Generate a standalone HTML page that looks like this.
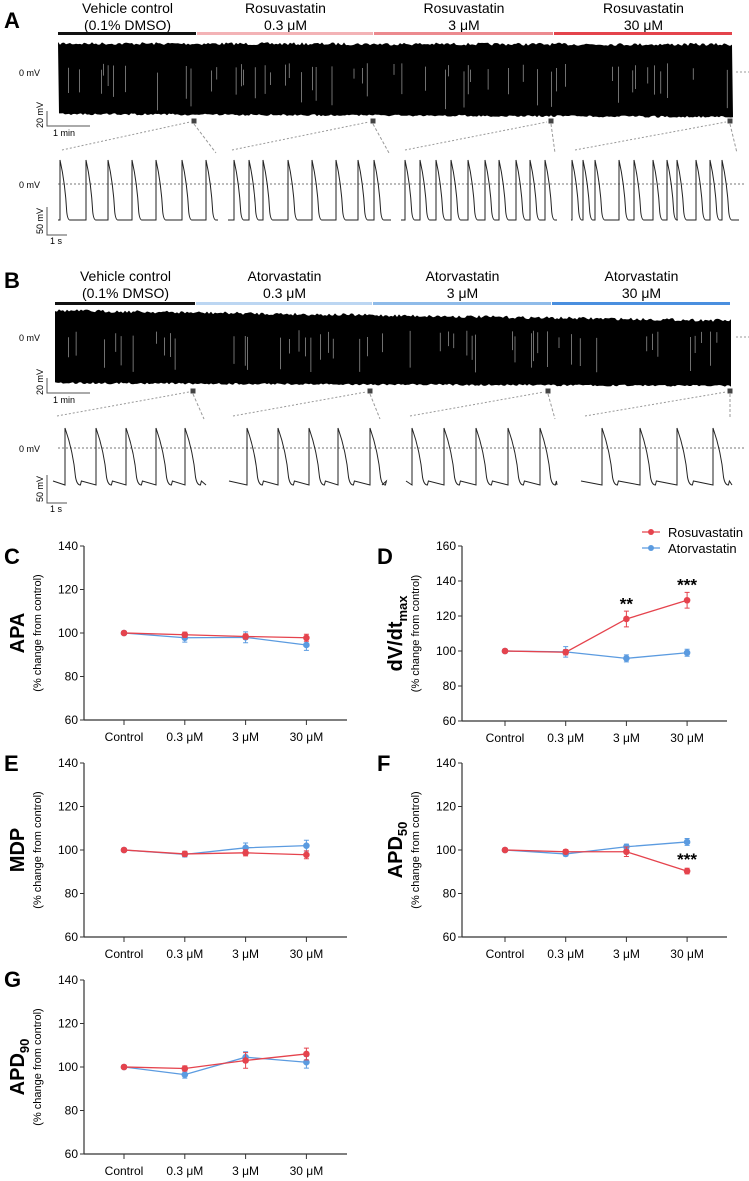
<!DOCTYPE html>
<html><head><meta charset="utf-8"><style>
body{margin:0;background:#fff}
svg{display:block;font-family:"Liberation Sans",sans-serif}
.n{font-family:"Liberation Sans Narrow","Liberation Sans",sans-serif}
</style></head><body>
<svg id="fig" width="749" height="1181" viewBox="0 0 749 1181"></svg>
<script>
const categories = ["Control","0.3 \u03bcM","3 \u03bcM","30 \u03bcM"];
const yTicks = [60,80,100,120,140];
const yTicksD = [60,80,100,120,140,160];
const apaRosu = [100,99.2,98.4,97.8], apaRosuErr=[0.6,1.2,1.2,1.6];
const apaAtor = [100,97.8,98,94.5], apaAtorErr=[0.6,2,2.5,2.5];
const dvRosu = [100,99.3,118.3,129], dvRosuErr=[0.8,1.5,4.5,4.5];
const dvAtor = [100,99.5,95.8,99], dvAtorErr=[0.6,3,2,2];
const mdpRosu = [100,98.2,98.7,97.8], mdpRosuErr=[0.6,1.2,1.4,1.8];
const mdpAtor = [100,98,101,102], mdpAtorErr=[0.6,1.2,2.2,2.5];
const apd50Rosu = [100,99.2,99.2,90.3], apd50RosuErr=[0.6,1,2.2,1.3];
const apd50Ator = [100,98.2,101.5,103.7], apd50AtorErr=[0.6,1,1.2,1.6];
const apd90Rosu = [100,99.3,103,106], apd90RosuErr=[0.8,1.2,3.6,2.7];
const apd90Ator = [100,96.5,104.5,102.2], apd90AtorErr=[0.6,1.6,2.5,2.7];
const RED="#e5434d", BLUE="#5b9be0";
const svg=document.getElementById('fig');
const NS="http://www.w3.org/2000/svg";
function mk(tag,attrs,parent){const e=document.createElementNS(NS,tag);for(const k in attrs)e.setAttribute(k,attrs[k]);(parent||svg).appendChild(e);return e;}
function txt(s,x,y,attrs,parent){const e=mk('text',Object.assign({x:x,y:y},attrs),parent);e.textContent=s;return e;}

// panel letters
[["A",4,28],["B",4,288],["C",4,564],["D",377,564],["E",4,771],["F",377,771],["G",4,987]].forEach(p=>{
const t=txt(p[0],p[1],p[2],{'font-size':22,'font-weight':'bold'});


});

// seeded rng for trace texture
let seed=7;function rnd(){seed=(seed*16807)%2147483647;return seed/2147483647;}

function tracePanel(o){
const g=mk('g',{});


// titles and bars
o.titles.forEach((t,i)=>{
 const cx=(o.bars[i]+o.bars[i+1])/2;
 txt(t[0],cx,o.ty,{'font-size':14,'text-anchor':'middle'},g);
 txt(t[1],cx,o.ty+17,{'font-size':14,'text-anchor':'middle'},g);
 mk('rect',{x:o.bars[i],y:o.by,width:o.bars[i+1]-o.bars[i]-1,height:3,fill:o.colors[i]},g);
});
// compressed trace
const x0=o.bars[0],x1=o.bars[4];
let top=`M${x0},${o.tt0}`;
for(let x=x0;x<=x1;x+=2){const f=(x-x0)/(x1-x0);top+=` L${x},${(o.tt0+(o.tt1-o.tt0)*f+rnd()*3-1).toFixed(1)}`;}
let bot='';
for(let x=x1;x>=x0;x-=2){const f=(x-x0)/(x1-x0);bot+=` L${x},${(o.tb0+(o.tb1-o.tb0)*f+rnd()*2-1).toFixed(1)}`;}
mk('path',{d:top+bot+'Z',fill:'#000'},g);
for(let x=x0+2;x<x1;x+=2+rnd()*5){if(rnd()<0.35){const y1=o.tt0+20+rnd()*10,y2=y1+10+rnd()*30;mk('line',{x1:x.toFixed(1),x2:x.toFixed(1),y1:y1,y2:y2,stroke:'#bbb','stroke-width':0.6},g);}}
txt("0 mV",19,o.z1+4,{'font-size':9},g);
mk('line',{x1:736,x2:749,y1:o.z1,y2:o.z1,stroke:'#999','stroke-dasharray':'2,2'},g);
// scale bar 1
mk('path',{d:`M47,${o.s1}V${o.s1+15}H90`,stroke:'#555',fill:'none','stroke-width':1},g);
txt("20 mV",0,0,{'font-size':9,transform:`translate(43,${o.s1+17}) rotate(-90)`},g);
txt("1 min",53,o.s1+25,{'font-size':9},g);
// squares and dashed zoom lines
o.sq.forEach((sx,i)=>{
 mk('rect',{x:sx-2.5,y:o.sqy-2.5,width:5,height:5,fill:'#444'},g);
 mk('line',{x1:o.groups[i].s+4,y1:o.dy,x2:sx-4,y2:o.sqy+1,stroke:'#999','stroke-dasharray':'2,2'},g);
 mk('line',{x1:sx,y1:o.sqy+3,x2:o.groups[i].e-2,y2:o.dy+3,stroke:'#999','stroke-dasharray':'3,2'},g);
});
// AP traces
mk('line',{x1:58,x2:744,y1:o.z2,y2:o.z2,stroke:'#777','stroke-dasharray':'2,2'},g);
txt("0 mV",19,o.z2+4,{'font-size':9},g);
o.groups.forEach(gr=>{
 let d=`M${gr.s},${o.base+o.pre}`;let last=gr.s;
 gr.sp.forEach(sx=>{
  d+=` L${sx},${o.base}`;
  d+=` L${sx},${o.peak}`;
  const w=o.w;
  d+=` C${sx+w*0.2},${o.peak+8} ${sx+w*0.6},${o.peak+(o.base-o.peak)*0.45} ${sx+w*0.75},${o.base-8}`;
  d+=` Q${sx+w*0.85},${o.base} ${sx+w*1.1},${o.base}`;
  d+=` L${sx+w*1.1+1},${o.base+o.pre}`;
 });
 d+=` L${gr.e},${o.base}`;
 mk('path',{d:d,fill:'none',stroke:'#222','stroke-width':1},g);
});
mk('path',{d:`M47,${o.s2}V${o.s2+28}H67`,stroke:'#555',fill:'none'},g);
txt("50 mV",0,0,{'font-size':9,transform:`translate(43,${o.s2+27}) rotate(-90)`},g);
txt("1 s",50,o.s2+37,{'font-size':9},g);
}

tracePanel({name:'panel-a-rosuvastatin-traces',ty:13,by:32,bars:[58,197,374,554,733],
titles:[["Vehicle control","(0.1% DMSO)"],["Rosuvastatin","0.3 \u03bcM"],["Rosuvastatin","3 \u03bcM"],["Rosuvastatin","30 \u03bcM"]],
colors:["#111","#f3b3b6","#ec8a8f","#e4444c"],tt0:43,tt1:44,tb0:114,tb1:117,z1:72,s1:111,sqy:121,sq:[194,373,551,730],dy:150,
z2:184,peak:160,base:220,pre:0,w:9,s2:207,
groups:[{s:58,e:218,sp:[60,86,108,132,156,182,206]},{s:228,e:391,sp:[234,249,263,288,312,336,358,374]},
{s:401,e:557,sp:[405,420,436,451,468,485,499,516,530,545]},{s:571,e:739,sp:[572,583,595,619,634,653,667,677,696,710,722]}]});
tracePanel({name:'panel-b-atorvastatin-traces',ty:281,by:302,bars:[55,196,373,552,731],
titles:[["Vehicle control","(0.1% DMSO)"],["Atorvastatin","0.3 \u03bcM"],["Atorvastatin","3 \u03bcM"],["Atorvastatin","30 \u03bcM"]],
colors:["#111","#bcd6f2","#8fbbe9","#4a8fdf"],tt0:310,tt1:320,tb0:383,tb1:386,z1:337,s1:378,sqy:391,sq:[193,370,548,730],dy:416,
z2:448,peak:428,base:485,pre:-4,w:14,s2:475,
groups:[{s:53,e:206,sp:[65,96,126,156,185]},{s:229,e:382,sp:[247,278,309,338,370]},
{s:406,e:557,sp:[412,444,476,508,540]},{s:581,e:732,sp:[602,640,677,713]}]});

// legend
[[RED,"Rosuvastatin",532,'legend-entry-rosuvastatin'],[BLUE,"Atorvastatin",548,'legend-entry-atorvastatin']].forEach(l=>{
const g=mk('g',{});


mk('line',{x1:642,x2:660,y1:l[2],y2:l[2],stroke:l[0],'stroke-width':1.2},g);
mk('circle',{cx:651,cy:l[2],r:3,fill:l[0]},g);
txt(l[1],668,l[2]+5,{'font-size':13},g);
});

function chart(o){
const g=mk('g',{});


const yv=v=>o.yb-(v-o.ticks[0])/(o.ticks[o.ticks.length-1]-o.ticks[0])*(o.yb-o.yt);
const xv=i=>o.cx0+i*o.dx;
mk('line',{x1:o.ax,x2:o.ax,y1:o.yt,y2:o.yb,stroke:'#333','stroke-width':1.2},g);
mk('line',{x1:o.ax,x2:o.ae,y1:o.yb,y2:o.yb,stroke:'#333','stroke-width':1.2},g);
o.ticks.forEach(t=>{mk('line',{x1:o.ax-4,x2:o.ax,y1:yv(t),y2:yv(t),stroke:'#333'},g);
 const tl=txt(t,o.ax-6,yv(t)+4,{'font-size':12,'text-anchor':'end','class':'n'},g);
 
 });
categories.forEach((c,i)=>{mk('line',{x1:xv(i),x2:xv(i),y1:o.yb,y2:o.yb+5,stroke:'#333'},g);
 const tl=txt(c,xv(i),o.yb+21,{'font-size':12,'text-anchor':'middle','class':'n'},g);
 
 });
// y titles
const t=txt('',0,0,{'font-size':20,'font-weight':'bold','text-anchor':'middle',transform:`translate(${o.ax-60},${(o.yt+o.yb)/2}) rotate(-90)`},g);
t.innerHTML=o.title;


const st=txt('(% change from control)',0,0,{'font-size':11,'text-anchor':'middle',transform:`translate(${o.ax-43},${(o.yt+o.yb)/2}) rotate(-90)`},g);


[[o.ator,o.atorErr,BLUE,'atorvastatin'],[o.rosu,o.rosuErr,RED,'rosuvastatin']].forEach(s=>{
 const pts=s[0].map((v,i)=>xv(i)+','+yv(v)).join(' ');
 const pl=mk('polyline',{points:pts,fill:'none',stroke:s[2],'stroke-width':1.3},g);
 
 
 s[0].forEach((v,i)=>{
  const x=xv(i);
  mk('path',{d:`M${x},${yv(v+s[1][i])}V${yv(v-s[1][i])}M${x-2.5},${yv(v+s[1][i])}h5M${x-2.5},${yv(v-s[1][i])}h5`,stroke:s[2],fill:'none','stroke-width':1},g);
  const c=mk('circle',{cx:x,cy:yv(v),r:3.3,fill:s[2]},g);
  
  
 });
});
(o.stars||[]).forEach(s=>{const st2=txt(s[1],xv(s[0]),yv(s[2])+4,{'font-size':17,'font-weight':'bold','text-anchor':'middle'},g);
 
 });
}
const L={ax:84,ae:347,cx0:124,dx:60.8}, R={ax:462,ae:727,cx0:505,dx:60.7};
chart(Object.assign({name:'chart-c-apa',yt:546,yb:720,ticks:yTicks,title:'APA',rosu:apaRosu,rosuErr:apaRosuErr,ator:apaAtor,atorErr:apaAtorErr},L));
chart(Object.assign({name:'chart-d-dvdt',yt:546,yb:721,ticks:yTicksD,title:'dV/dt<tspan font-size="13" dy="5">max</tspan>',rosu:dvRosu,rosuErr:dvRosuErr,ator:dvAtor,atorErr:dvAtorErr,stars:[[2,'**',126],[3,'***',137]]},R));
chart(Object.assign({name:'chart-e-mdp',yt:763,yb:937,ticks:yTicks,title:'MDP',rosu:mdpRosu,rosuErr:mdpRosuErr,ator:mdpAtor,atorErr:mdpAtorErr},L));
chart(Object.assign({name:'chart-f-apd50',yt:763,yb:937,ticks:yTicks,title:'APD<tspan font-size="13" dy="5">50</tspan>',rosu:apd50Rosu,rosuErr:apd50RosuErr,ator:apd50Ator,atorErr:apd50AtorErr,stars:[[3,'***',95]]},R));
chart(Object.assign({name:'chart-g-apd90',yt:980,yb:1154,ticks:yTicks,title:'APD<tspan font-size="13" dy="5">90</tspan>',rosu:apd90Rosu,rosuErr:apd90RosuErr,ator:apd90Ator,atorErr:apd90AtorErr},L));
</script>
</body></html>
